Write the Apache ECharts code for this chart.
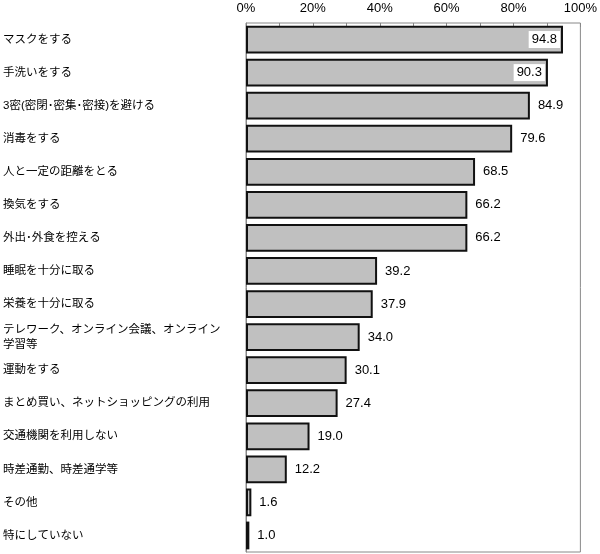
<!DOCTYPE html>
<html><head><meta charset="utf-8">
<script src="https://cdn.jsdelivr.net/npm/echarts@6/dist/echarts.min.js"></script>
<style>html,body{margin:0;padding:0;background:#fff}#c{width:600px;height:554px}</style>
</head><body><div id="c"></div>
<script>
const categories = ['マスクをする','手洗いをする','3密(密閉･密集･密接)を避ける','消毒をする','人と一定の距離をとる','換気をする','外出･外食を控える','睡眠を十分に取る','栄養を十分に取る','テレワーク、オンライン会議、オンライン\n学習等','運動をする','まとめ買い、ネットショッピングの利用','交通機関を利用しない','時差通勤、時差通学等','その他','特にしていない'];
const values = [94.8,90.3,84.9,79.6,68.5,66.2,66.2,39.2,37.9,34.0,30.1,27.4,19.0,12.2,1.6,1.0];
const xTicks = [0,20,40,60,80,100];
const insideCount = 2;

const FONT = "'Liberation Sans','Noto Sans CJK JP',sans-serif";
const chart = echarts.init(document.getElementById('c'), null, {renderer:'canvas'});
const data = values.map((v,i)=>({
  value: v,
  label: i < insideCount ? {position:'insideRight', distance:3, backgroundColor:'#fff', padding:[3,3,1,3]} : {position:'right', distance:8}
}));
chart.setOption({
  animation:false,
  grid:{left:246,right:17,top:23,bottom:2,show:true,borderColor:'#888',borderWidth:1},
  xAxis:{type:'value',position:'top',min:xTicks[0],max:xTicks[xTicks.length-1],interval:20,
    axisLabel:{formatter:'{value}%',color:'#000',fontSize:13,fontFamily:FONT,margin:8},
    axisLine:{show:false},axisTick:{show:true,inside:true,length:4,lineStyle:{color:'#888'}},
    minorTick:{show:true,splitNumber:2,length:4,lineStyle:{color:'#888'}},
    splitLine:{show:false}},
  yAxis:{type:'category',inverse:true,data:categories,
    axisLabel:{align:'left',margin:243,color:'#000',fontSize:11.5,fontFamily:FONT,lineHeight:15},
    axisLine:{show:true,lineStyle:{color:'#888'}},axisTick:{show:false}},
  series:[{type:'bar',data:data,barCategoryGap:'16%',
    itemStyle:{color:'#c0c0c0',borderColor:'#111',borderWidth:2},
    label:{show:true,color:'#000',fontSize:13,fontFamily:FONT,formatter:p=>p.value.toFixed(1)}}]
});
</script></body></html>
